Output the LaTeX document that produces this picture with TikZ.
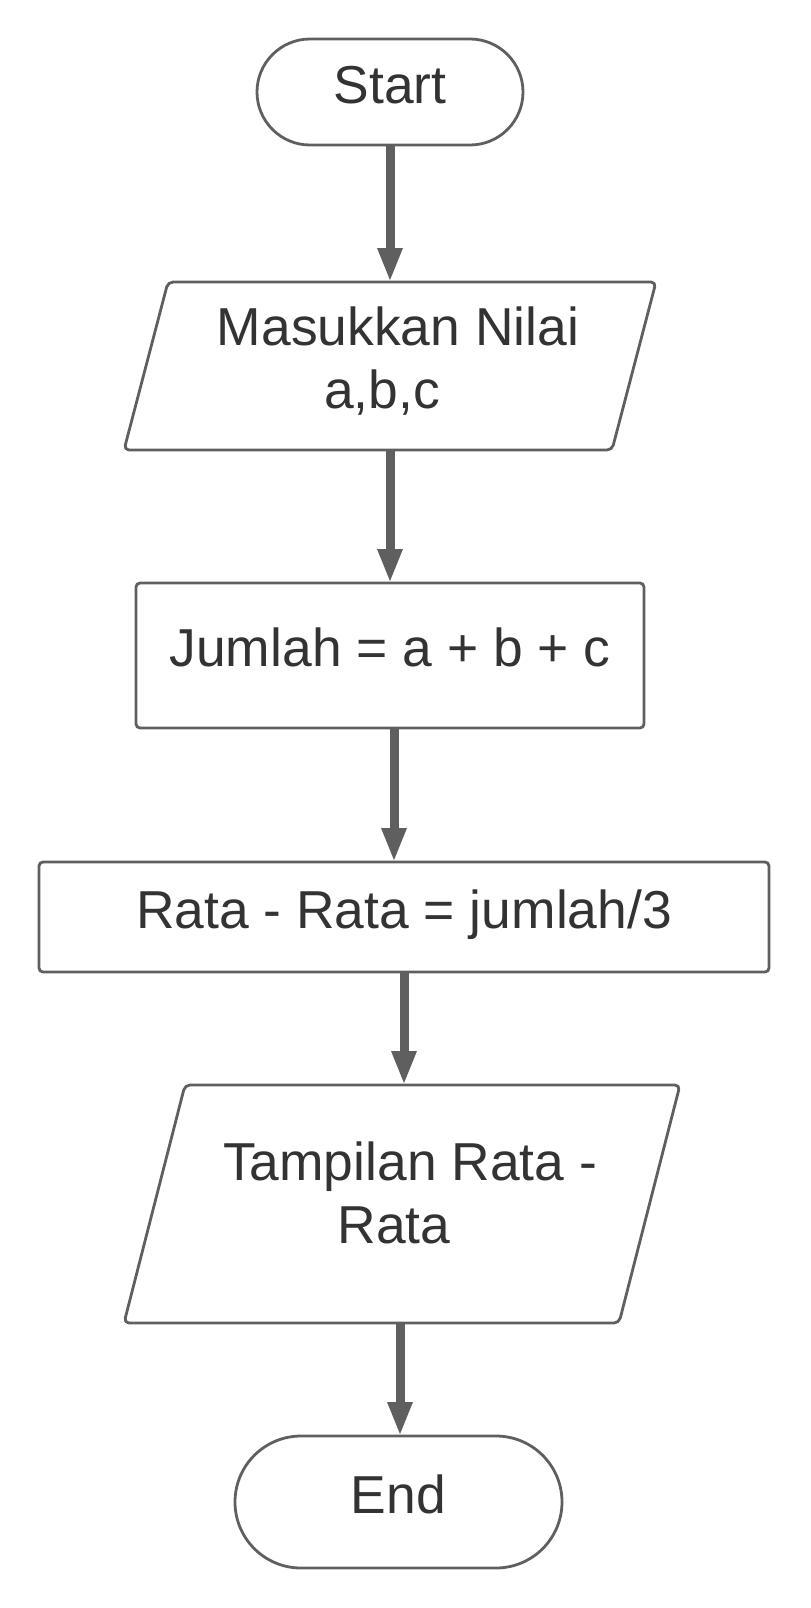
\documentclass[tikz,border=0pt]{standalone}
\usepackage{fontspec}
\setmainfont{Liberation Sans}
\usetikzlibrary{arrows.meta,calc}
\definecolor{edge}{HTML}{5F5F5F}
\definecolor{ink}{HTML}{333333}
\begin{document}
\begin{tikzpicture}[x=0.5pt,y=-0.5pt,
  base/.style={font=\fontsize{26.7}{31.5}\selectfont, text=ink, inner sep=0pt, outer sep=0pt},
  term/.style={base, draw=edge, line width=1.4pt, rounded corners=#1, text height=19pt, text depth=8pt},
  proc/.style={base, draw=edge, line width=1.4pt, rounded corners=2pt, text height=19pt, text depth=8pt},
  io/.style={base, align=center},
  ioline/.style={draw=edge, line width=1.4pt, rounded corners=2.5pt, line join=round},
  arr/.style={draw=edge, line width=4.5pt, -{Triangle[width=11.5pt,length=17pt]}}
]
\useasboundingbox (0,0) rectangle (810,1608);

\node[term=26.5pt, minimum width=133pt, minimum height=53pt] (start) at (390,92) {Start};

\node[io, minimum width=244pt, minimum height=84pt] (in) at (390,366) {\hspace*{8pt}Masukkan Nilai\\a,b,c\rule[-8pt]{0pt}{0pt}\hspace*{8pt}};
\draw[ioline] ($(in.north west)+(22,0)$) -- ($(in.north east)+(22,0)$) -- ($(in.south east)+(-22,0)$) -- ($(in.south west)+(-22,0)$) -- cycle;

\node[proc, minimum width=254pt, minimum height=72.5pt] (sum) at (390,655.5) {Jumlah = a + b + c};

\node[proc, minimum width=365pt, minimum height=55pt] (avg) at (404,917) {Rata - Rata = jumlah/3};

\node[io, minimum width=247.5pt, minimum height=119pt] (out) at (402,1204) {\hspace*{8pt}Tampilan Rata -\\Rata\rule[-11pt]{0pt}{0pt}\hspace*{8pt}};
\draw[ioline] ($(out.north west)+(30.5,0)$) -- ($(out.north east)+(30.5,0)$) -- ($(out.south east)+(-30.5,0)$) -- ($(out.south west)+(-30.5,0)$) -- cycle;

\node[term=33pt, minimum width=163.5pt, minimum height=66pt] (end) at (398.5,1502) {End};

\draw[arr] (start) -- (in);
\draw[arr] (in) -- (sum);
\draw[arr] ([xshift=2pt]sum.south) -- ([xshift=2pt]sum.south |- avg.north);
\draw[arr] (avg.south) -- (avg.south |- out.north);
\draw[arr] ([xshift=-1pt]out.south) -- ([xshift=-1pt]out.south |- end.north);
\end{tikzpicture}
\end{document}
